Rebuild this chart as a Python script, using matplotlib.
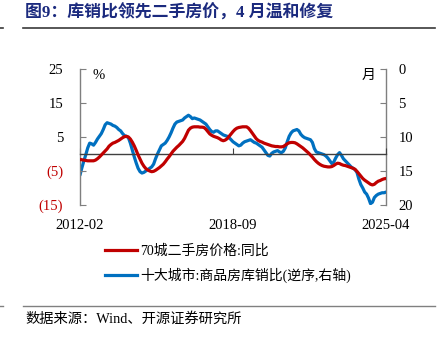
import matplotlib
matplotlib.use("Agg")
import matplotlib.pyplot as plt
from matplotlib.lines import Line2D

plt.rcParams['font.family'] = ['Liberation Serif', 'Noto Sans CJK SC']
plt.rcParams['axes.unicode_minus'] = False

# ---------------- data ----------------
start_label = "2012-02"
mid_label = "2018-09"
end_label = "2025-04"
xtick_labels = [start_label, mid_label, end_label]
xtick_pos = [0, 79, 158]

price_yoy = [
    -1.6, -1.7, -1.8, -1.9, -2.0, -2.0, -2.0, -2.0, -1.8, -1.4,
    -0.9, -0.3, 0.3, 0.9, 1.5, 2.3, 2.8, 3.2, 3.4, 3.7,
    4.0, 4.4, 4.8, 5.1, 5.2, 5.0, 4.4, 3.5, 2.4, 1.1,
    -0.3, -1.5, -2.7, -3.6, -4.3, -4.7, -5.0, -5.2, -5.1, -4.8,
    -4.4, -4.0, -3.5, -3.0, -2.3, -1.5, -0.8, 0.0, 0.8, 1.4,
    2.0, 2.5, 3.1, 3.7, 4.6, 5.8, 7.0, 7.6, 7.9, 8.0,
    8.0, 8.0, 7.9, 7.9, 7.8, 7.3, 6.6, 5.9, 5.5, 5.2,
    5.0, 4.8, 4.5, 4.1, 3.9, 4.1, 4.5, 5.2, 5.9, 6.6,
    7.2, 7.6, 7.8, 7.9, 8.0, 8.0, 8.0, 7.6, 6.9, 6.1,
    5.3, 4.5, 4.0, 3.7, 3.5, 3.2, 3.0, 2.8, 2.6, 2.4,
    2.3, 2.2, 2.2, 2.1, 2.1, 2.2, 2.6, 3.0, 3.3, 3.4,
    3.4, 3.3, 3.0, 2.6, 2.2, 1.8, 1.3, 0.8, 0.3, -0.3,
    -0.9, -1.6, -2.2, -2.7, -3.1, -3.4, -3.6, -3.7, -3.8, -3.8,
    -3.7, -3.4, -3.0, -2.7, -2.8, -3.1, -3.3, -3.4, -3.6, -3.8,
    -4.0, -4.2, -4.5, -5.1, -5.8, -6.5, -7.2, -7.7, -8.1, -8.5,
    -8.9, -9.1, -8.9, -8.4, -8.0, -7.8, -7.5, -7.3, -7.2,
]

inventory_ratio = [
    15.6, 14.5, 13.5, 12.6, 11.6, 10.9, 11.0, 11.2, 10.8, 10.3,
    9.9, 9.5, 8.9, 8.2, 7.9, 8.0, 8.1, 8.3, 8.4, 8.6,
    8.9, 9.1, 9.5, 9.8, 9.9, 10.1, 10.9, 11.9, 12.9, 13.8,
    14.6, 15.1, 15.3, 15.2, 15.0, 14.8, 14.6, 14.4, 14.0, 13.2,
    12.5, 11.9, 11.3, 11.1, 10.9, 10.5, 10.0, 9.4, 8.7, 8.1,
    7.8, 7.7, 7.6, 7.5, 7.2, 7.0, 6.8, 7.0, 7.3, 7.2,
    7.3, 7.4, 7.5, 7.7, 7.9, 8.1, 8.5, 8.9, 9.2, 9.3,
    9.1, 9.1, 9.3, 9.5, 9.7, 9.8, 9.9, 10.1, 10.4, 10.7,
    10.9, 11.1, 11.3, 11.2, 10.9, 10.7, 10.6, 10.5, 10.4, 10.6,
    10.8, 10.9, 11.1, 11.3, 11.5, 11.9, 12.3, 12.7, 12.8, 12.4,
    12.2, 12.1, 12.0, 12.2, 12.3, 12.1, 11.6, 10.7, 9.9, 9.4,
    9.1, 9.0, 8.9, 9.1, 9.6, 9.9, 10.1, 10.2, 10.3, 10.4,
    10.8, 11.7, 12.2, 12.3, 12.4, 12.5, 12.6, 12.8, 13.1, 13.5,
    13.9, 13.7, 13.1, 12.6, 12.3, 12.7, 13.2, 13.5, 13.8, 14.1,
    14.4, 14.6, 14.8, 15.2, 16.2, 17.0, 17.5, 18.1, 18.4, 19.0,
    19.8, 19.6, 18.9, 18.6, 18.4, 18.3, 18.2, 18.2, 18.1,
]

left_ticks = [25, 15, 5, -5, -15]
left_tick_labels = ["25", "15", "5", "(5)", "(15)"]
right_ticks = [0, 5, 10, 15, 20]
right_tick_labels = ["0", "5", "10", "15", "20"]

title = "图9：库销比领先二手房价，4 月温和修复"
label_red = "70城二手房价格:同比"
label_blue = "十大城市:商品房库销比(逆序,右轴)"
source = "数据来源：Wind、开源证券研究所"

# ---------------- style ----------------
RED = "#C00000"
BLUE = "#0070C0"
NAVY = "#1B2A7E"
W, H = 443, 338

fig = plt.figure(figsize=(W / 100, H / 100), dpi=100)
ax = fig.add_axes([80 / W, 1 - 205 / H, 306 / W, 136 / H])
ax2 = ax.twinx()

x = list(range(len(price_yoy)))
ax.plot(x, price_yoy, color=RED, lw=2.3, solid_capstyle='round', zorder=3)
ax2.plot(x, inventory_ratio, color=BLUE, lw=2.3, solid_capstyle='round', zorder=3)

ax.set_xlim(0, len(price_yoy) - 1)
ax.set_ylim(-15, 25)
ax2.set_ylim(20, 0)

# spines
for a in (ax, ax2):
    a.spines['top'].set_visible(False)
    a.patch.set_visible(False)
ax.spines['right'].set_visible(False)
ax2.spines['left'].set_visible(False)
ax2.spines['bottom'].set_visible(False)
ax.spines['left'].set_color('#7f7f7f')
ax2.spines['right'].set_color('#7f7f7f')
ax.spines['left'].set_linewidth(1.0)
ax2.spines['right'].set_linewidth(1.0)
ax.spines['bottom'].set_position(('data', 0))
ax.spines['bottom'].set_color('#404040')
ax.spines['bottom'].set_linewidth(1.0)
ax.set_zorder(ax2.get_zorder() + 1)

# y ticks
ax.set_yticks(left_ticks)
ax.set_yticklabels(left_tick_labels)
for lab, v in zip(ax.get_yticklabels(), left_ticks):
    lab.set_color(RED if v < 0 else 'black')
ax.tick_params(axis='y', direction='in', length=4, color='#7f7f7f',
               labelsize=10.5, pad=12)
ax2.set_yticks(right_ticks)
ax2.set_yticklabels(right_tick_labels)
ax2.tick_params(axis='y', direction='in', length=4, color='#7f7f7f',
                labelsize=10.5, pad=9)

# x ticks
ax.set_xticks(xtick_pos)
ax.set_xticklabels(xtick_labels)
ax.tick_params(axis='x', direction='in', length=4, color='#404040',
               labelsize=10.5, pad=47)

# unit labels
ax.text(0.04, 1.0, "%", transform=ax.transAxes, ha='left', va='top', fontsize=10.5)
ax2.text(0.965, 1.0, "月", transform=ax2.transAxes, ha='right', va='top', fontsize=10)

# title and rules
fig.text(25 / W, 1 - 13 / H, title, fontsize=12.2, fontweight='bold', color=NAVY,
         ha='left', va='center')
fig.add_artist(Line2D([23 / W, 435 / W], [1 - 27.5 / H] * 2, color='#3a3a3a', lw=1.2))
fig.add_artist(Line2D([0, 3 / W], [1 - 27.5 / H] * 2, color='#3a3a3a', lw=1.2))
fig.add_artist(Line2D([23 / W, 435 / W], [1 - 306 / H] * 2, color='#808080', lw=1.0))
fig.add_artist(Line2D([0, 3 / W], [1 - 306 / H] * 2, color='#808080', lw=1.0))
fig.text(25 / W, 1 - 319 / H, source, fontsize=10.3, ha='left', va='center')

# legend
h1 = Line2D([], [], color=RED, lw=2.3)
h2 = Line2D([], [], color=BLUE, lw=2.3)
fig.legend([h1, h2], [label_red, label_blue], loc='upper left',
           bbox_to_anchor=(105 / W, 1 - 244 / H), frameon=False, fontsize=10,
           handlelength=2.3, handletextpad=0.25, labelspacing=0.75,
           borderpad=0, borderaxespad=0)

fig.savefig("out.png", dpi=100)
